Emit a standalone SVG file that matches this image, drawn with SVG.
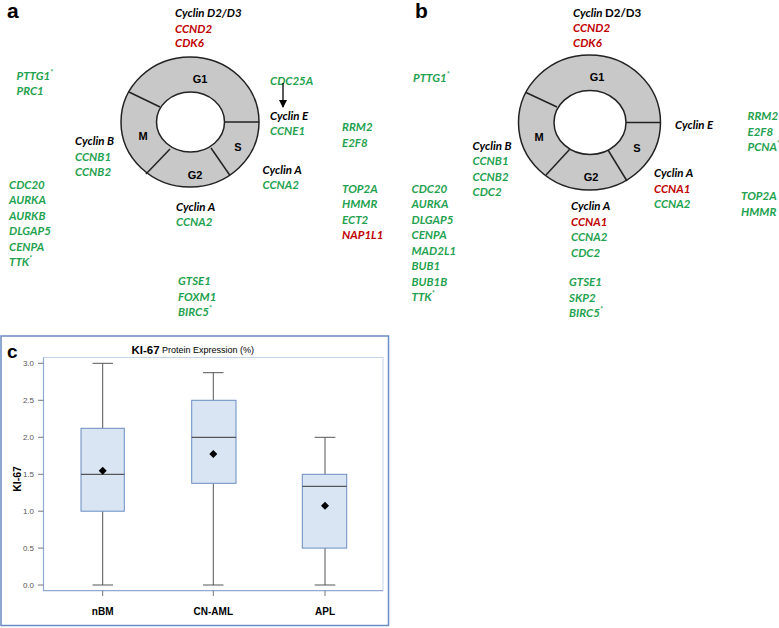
<svg xmlns="http://www.w3.org/2000/svg" width="779" height="628" viewBox="0 0 779 628">
<defs>
<style>
.t{font-family:Lato,"Liberation Sans",sans-serif;font-weight:bold;font-style:italic;font-size:11.5px}
.g{fill:#1fa24f}.r{fill:#c00000}.k{fill:#000}
.ph{font-family:"Liberation Sans",sans-serif;font-weight:bold;font-size:11px;fill:#000;text-anchor:middle}
.lab{font-family:"Liberation Sans",sans-serif;font-weight:bold;font-size:21px;fill:#000}
.ring{fill:#c8c8c8;stroke:#222;stroke-width:1.5}
.hole{fill:#fff;stroke:#222;stroke-width:1.5}
.seg{stroke:#222;stroke-width:1.5;fill:none}
.sup{font-size:7px}
.ytk{font-family:"Liberation Sans",sans-serif;font-size:8px;fill:#555;text-anchor:end}
.xl{font-family:"Liberation Sans",sans-serif;font-weight:bold;font-size:10px;fill:#000;text-anchor:middle}
.box{fill:#dae5f3;stroke:#6a8cc2;stroke-width:1}
.wh{stroke:#555;stroke-width:1;fill:none}
.med{stroke:#333;stroke-width:1}
</style>
<marker id="ah" viewBox="0 0 8 8" refX="7" refY="4" markerWidth="8" markerHeight="8" markerUnits="userSpaceOnUse" orient="auto">
<path d="M0,0 L8,4 L0,8 Z" fill="#000"/>
</marker>
</defs>
<rect width="779" height="628" fill="#fff"/>

<!-- Panel a -->
<text class="lab" x="7" y="18">a</text>
<g id="cycle-a">
<ellipse class="ring" cx="190" cy="122" rx="69" ry="65"/>
<ellipse class="hole" cx="190.5" cy="122" rx="34" ry="30"/>
<line class="seg" x1="129" y1="92" x2="160" y2="107"/>
<line class="seg" x1="224.5" y1="122" x2="259" y2="122"/>
<line class="seg" x1="211" y1="148" x2="230" y2="175.5"/>
<line class="seg" x1="170" y1="149" x2="146" y2="174"/>
<text class="ph" x="200" y="83">G1</text>
<text class="ph" x="143" y="140">M</text>
<text class="ph" x="238" y="151">S</text>
<text class="ph" x="195" y="179">G2</text>
</g>
<g id="a-cyclinD" class="t">
<text class="k" x="175" y="17">Cyclin D2/D3</text>
<text class="r" x="175" y="32.5">CCND2</text>
<text class="r" x="175" y="47">CDK6</text>
</g>
<g id="a-pttg" class="t">
<text class="g" x="16.5" y="80">PTTG1<tspan class="sup" dy="-5">*</tspan></text>
<text class="g" x="16.5" y="95">PRC1</text>
</g>
<g id="a-cyclinB" class="t">
<text class="k" x="75" y="144.5">Cyclin B</text>
<text class="g" x="75" y="160.5">CCNB1</text>
<text class="g" x="75" y="176">CCNB2</text>
</g>
<g id="a-mitotic" class="t">
<text class="g" x="9" y="188.5">CDC20</text>
<text class="g" x="9" y="204">AURKA</text>
<text class="g" x="9" y="219.5">AURKB</text>
<text class="g" x="9" y="235">DLGAP5</text>
<text class="g" x="9" y="250.5">CENPA</text>
<text class="g" x="9" y="266">TTK<tspan class="sup" dy="-5">*</tspan></text>
</g>
<g id="a-cyclinA-g2" class="t">
<text class="k" x="176" y="210.5">Cyclin A</text>
<text class="g" x="176" y="226">CCNA2</text>
</g>
<g id="a-g2genes" class="t">
<text class="g" x="178" y="285">GTSE1</text>
<text class="g" x="178" y="300.5">FOXM1</text>
<text class="g" x="178" y="316">BIRC5<tspan class="sup" dy="-5">*</tspan></text>
</g>
<g id="a-cdc25a" class="t">
<text class="g" x="270" y="85">CDC25A</text>
</g>
<g id="a-cyclinE" class="t">
<text class="k" x="270" y="120">Cyclin E</text>
<text class="g" x="270" y="135">CCNE1</text>
</g>
<g id="a-rrm2" class="t">
<text class="g" x="342" y="130.5">RRM2</text>
<text class="g" x="342" y="146.5">E2F8</text>
</g>
<g id="a-cyclinA-s" class="t">
<text class="k" x="262.5" y="174">Cyclin A</text>
<text class="g" x="262.5" y="189">CCNA2</text>
</g>
<g id="a-top2a" class="t">
<text class="g" x="342" y="192.5">TOP2A</text>
<text class="g" x="342" y="208">HMMR</text>
<text class="g" x="342" y="223.5">ECT2</text>
<text class="r" x="342" y="239">NAP1L1</text>
</g>

<!-- Panel b -->
<text class="lab" x="415" y="18">b</text>
<g id="cycle-b">
<ellipse class="ring" cx="589.5" cy="122.5" rx="71" ry="67.5"/>
<ellipse class="hole" cx="590" cy="122.5" rx="36" ry="32"/>
<line class="seg" x1="526" y1="92.5" x2="557" y2="107"/>
<line class="seg" x1="626" y1="122.5" x2="660.5" y2="122.5"/>
<line class="seg" x1="608" y1="150" x2="627" y2="181"/>
<line class="seg" x1="569.5" y1="149.5" x2="546" y2="175"/>
<text class="ph" x="597" y="81">G1</text>
<text class="ph" x="539" y="141">M</text>
<text class="ph" x="637" y="152">S</text>
<text class="ph" x="591" y="181">G2</text>
</g>
<g id="b-cyclinD" class="t">
<text class="k" x="573" y="17">Cyclin <tspan style="font-style:normal">D2/D3</tspan></text>
<text class="r" x="573" y="32">CCND2</text>
<text class="r" x="573" y="47">CDK6</text>
</g>
<g id="b-pttg" class="t">
<text class="g" x="413" y="81.5">PTTG1<tspan class="sup" dy="-5">*</tspan></text>
</g>
<g id="b-cyclinB" class="t">
<text class="k" x="472.5" y="149.5">Cyclin B</text>
<text class="g" x="472.5" y="165">CCNB1</text>
<text class="g" x="472.5" y="180.5">CCNB2</text>
<text class="g" x="472.5" y="196">CDC2</text>
</g>
<g id="b-mitotic" class="t">
<text class="g" x="411.5" y="192.5">CDC20</text>
<text class="g" x="411.5" y="208">AURKA</text>
<text class="g" x="411.5" y="223.5">DLGAP5</text>
<text class="g" x="411.5" y="239">CENPA</text>
<text class="g" x="411.5" y="254.5">MAD2L1</text>
<text class="g" x="411.5" y="270">BUB1</text>
<text class="g" x="411.5" y="285.5">BUB1B</text>
<text class="g" x="411.5" y="300.5">TTK<tspan class="sup" dy="-5">*</tspan></text>
</g>
<g id="b-cyclinA-g2" class="t">
<text class="k" x="571" y="210">Cyclin A</text>
<text class="r" x="571" y="225.5">CCNA1</text>
<text class="g" x="571" y="241">CCNA2</text>
<text class="g" x="571" y="256.5">CDC2</text>
</g>
<g id="b-g2genes" class="t">
<text class="g" x="569" y="286">GTSE1</text>
<text class="g" x="569" y="301.5">SKP2</text>
<text class="g" x="569" y="317">BIRC5<tspan class="sup" dy="-5">*</tspan></text>
</g>
<g id="b-cyclinE" class="t">
<text class="k" x="675" y="129">Cyclin E</text>
</g>
<g id="b-cyclinA-s" class="t">
<text class="k" x="654" y="176.5">Cyclin A</text>
<text class="r" x="654" y="192.5">CCNA1</text>
<text class="g" x="654" y="208">CCNA2</text>
</g>
<g id="b-rrm2" class="t">
<text class="g" x="747.5" y="120">RRM2</text>
<text class="g" x="747.5" y="135.5">E2F8</text>
<text class="g" x="747.5" y="150.5">PCNA<tspan class="sup" dy="-5">*</tspan></text>
</g>
<g id="b-top2a" class="t">
<text class="g" x="741" y="200">TOP2A</text>
<text class="g" x="741" y="215.5">HMMR</text>
</g>

<g id="connectors">
<line x1="283" y1="83" x2="283" y2="107" stroke="#000" stroke-width="1.3" marker-end="url(#ah)"/>
</g>

<!-- Panel c -->
<g id="panel-c">
<rect x="1" y="336" width="387.5" height="289.5" fill="#fff" stroke="#6b8cc4" stroke-width="1.5"/>
<text x="7" y="358" font-family="Liberation Sans, sans-serif" font-weight="bold" font-size="19" fill="#000">c</text>
<text x="131.5" y="353.5" font-family="Liberation Sans, sans-serif" font-weight="bold" font-size="11.5" fill="#000">KI-67</text>
<text x="162" y="353" font-family="Liberation Sans, sans-serif" font-size="9" fill="#000">Protein Expression (%)</text>
<rect x="43.5" y="357.5" width="339.5" height="233" fill="none" stroke="#c3d3ea" stroke-width="1"/>
<line x1="43.5" y1="357.5" x2="43.5" y2="591" stroke="#8fa9d3" stroke-width="1.2"/>
<line x1="43" y1="590.7" x2="383" y2="590.7" stroke="#8fa9d3" stroke-width="1.2"/>
<g stroke="#777" stroke-width="1">
<line x1="38" y1="363.3" x2="43.5" y2="363.3"/>
<line x1="38" y1="400.3" x2="43.5" y2="400.3"/>
<line x1="38" y1="437.3" x2="43.5" y2="437.3"/>
<line x1="38" y1="474.3" x2="43.5" y2="474.3"/>
<line x1="38" y1="511.2" x2="43.5" y2="511.2"/>
<line x1="38" y1="548.1" x2="43.5" y2="548.1"/>
<line x1="38" y1="585" x2="43.5" y2="585"/>
<line x1="102.7" y1="590.7" x2="102.7" y2="596"/>
<line x1="213.3" y1="590.7" x2="213.3" y2="596"/>
<line x1="325" y1="590.7" x2="325" y2="596"/>
</g>
<text class="ytk" x="34" y="366.3">3.0</text>
<text class="ytk" x="34" y="403.3">2.5</text>
<text class="ytk" x="34" y="440.3">2.0</text>
<text class="ytk" x="34" y="477.3">1.5</text>
<text class="ytk" x="34" y="514.2">1.0</text>
<text class="ytk" x="34" y="551.1">0.5</text>
<text class="ytk" x="34" y="588">0.0</text>
<text transform="translate(20.5,479) rotate(-90)" font-family="Liberation Sans, sans-serif" font-weight="bold" font-size="10.5" fill="#000" text-anchor="middle">KI-67</text>
<g id="box-nbm">
<line class="wh" x1="102.7" y1="363.3" x2="102.7" y2="428.3"/>
<line class="wh" x1="102.7" y1="511.2" x2="102.7" y2="585"/>
<line class="wh" x1="92.5" y1="363.3" x2="113" y2="363.3"/>
<line class="wh" x1="92.5" y1="585" x2="113" y2="585"/>
<rect class="box" x="81" y="428.3" width="43.3" height="82.9"/>
<line class="med" x1="81" y1="474.3" x2="124.3" y2="474.3"/>
<path d="M102.7,466.7 L106.7,470.7 L102.7,474.7 L98.7,470.7 Z" fill="#000"/>
</g>
<g id="box-cnaml">
<line class="wh" x1="213.3" y1="372.7" x2="213.3" y2="400.3"/>
<line class="wh" x1="213.3" y1="483.3" x2="213.3" y2="585"/>
<line class="wh" x1="203" y1="372.7" x2="223.5" y2="372.7"/>
<line class="wh" x1="203" y1="585" x2="223.5" y2="585"/>
<rect class="box" x="191.7" y="400.3" width="44.3" height="83"/>
<line class="med" x1="191.7" y1="437.3" x2="236" y2="437.3"/>
<path d="M213.3,450 L217.3,454 L213.3,458 L209.3,454 Z" fill="#000"/>
</g>
<g id="box-apl">
<line class="wh" x1="325" y1="437.3" x2="325" y2="474.3"/>
<line class="wh" x1="325" y1="548.1" x2="325" y2="585"/>
<line class="wh" x1="314.7" y1="437.3" x2="335.3" y2="437.3"/>
<line class="wh" x1="314.7" y1="585" x2="335.3" y2="585"/>
<rect class="box" x="302.3" y="474.3" width="44.4" height="73.8"/>
<line class="med" x1="302.3" y1="486.3" x2="346.7" y2="486.3"/>
<path d="M325,501.7 L329,505.7 L325,509.7 L321,505.7 Z" fill="#000"/>
</g>
<text class="xl" x="102.7" y="615">nBM</text>
<text class="xl" x="213.3" y="615">CN-AML</text>
<text class="xl" x="325" y="615">APL</text>
</g>
</svg>
